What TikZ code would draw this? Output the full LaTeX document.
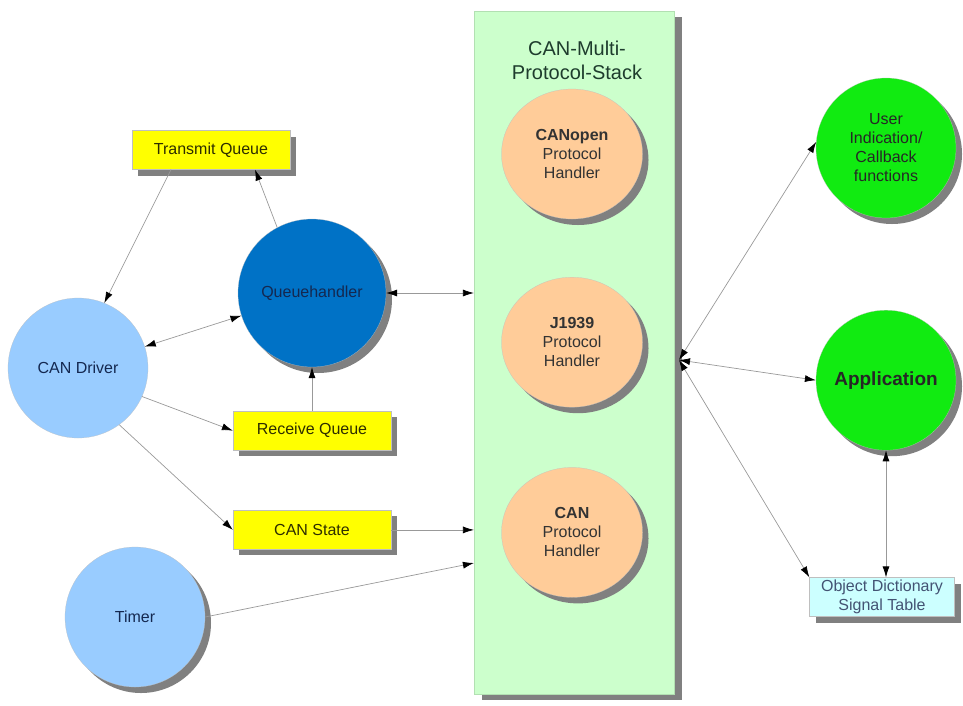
\documentclass[tikz,border=0pt]{standalone}
\usepackage{fontspec}
\setmainfont{Liberation Sans}
\usetikzlibrary{positioning}
\usetikzlibrary{arrows.meta}
\usetikzlibrary{shadows}
\usetikzlibrary{shapes.geometric}
\definecolor{stackgreen}{RGB}{204,255,204}
\definecolor{handlerorange}{RGB}{255,204,153}
\definecolor{qhblue}{RGB}{0,114,198}
\definecolor{driverblue}{RGB}{153,204,255}
\definecolor{usergreen}{RGB}{17,235,17}
\definecolor{qyellow}{RGB}{255,255,0}
\definecolor{dictcyan}{RGB}{204,255,255}
\definecolor{navytext}{RGB}{20,40,80}
\definecolor{olivetext}{RGB}{45,45,0}
\definecolor{titletext}{RGB}{30,60,45}
\tikzset{basic/.style={draw=black!25,very thin,font=\fontsize{16}{19}\selectfont,align=center,inner sep=0pt}}
\tikzset{shadowed/.style={drop shadow={shadow xshift=6pt,shadow yshift=-6pt,fill=black!50,opacity=1}}}
\tikzset{stackbox/.style={basic,rectangle,draw=green!60!black!30,fill=stackgreen,minimum width=200pt,minimum height=683pt,drop shadow={shadow xshift=8pt,shadow yshift=-5pt,fill=black!50,opacity=1}}}
\tikzset{handler/.style={basic,ellipse,fill=handlerorange,minimum width=141pt,minimum height=130pt,text=black!80,shadowed}}
\tikzset{driver/.style={basic,circle,fill=driverblue,minimum size=140pt,text=navytext}}
\tikzset{qhandler/.style={basic,circle,fill=qhblue,minimum size=148pt,text=navytext,shadowed}}
\tikzset{queue/.style={basic,rectangle,fill=qyellow,minimum width=158pt,minimum height=39pt,text=olivetext,shadowed}}
\tikzset{userfn/.style={basic,circle,fill=usergreen,minimum size=140pt,text=black!85,shadowed}}
\tikzset{dict/.style={basic,rectangle,fill=dictcyan,minimum width=145pt,minimum height=39pt,text=navytext!80,shadowed}}
\tikzset{link/.style={draw=black!40,line width=0.7pt,->}}
\tikzset{dlink/.style={link,<->}}

\begin{document}
\begin{tikzpicture}[x=1pt,y=-1pt,>={Latex[length=11pt,width=7pt,black]}]
    \useasboundingbox (0,0) rectangle (963,705);
    % protocol stack
    \node[stackbox] (stack) at (574,353) {};
    \node[font=\fontsize{20}{24}\selectfont,align=center,text=titletext] (title) at (577,60) {CAN-Multi-\\Protocol-Stack};
    \node[handler] (canopen) at (572,154) {\textbf{CANopen}\\Protocol\\Handler};
    \node[handler,below=58pt of canopen] (j1939) {\textbf{J1939}\\Protocol\\Handler};
    \node[handler,below=60pt of j1939] (canh) {\textbf{CAN}\\Protocol\\Handler};
    % driver side
    \node[driver] (drv) at (78,368) {CAN Driver};
    \node[driver,shadowed] (tmr) at (135,617) {Timer};
    \node[qhandler] (qh) at (312,293) {Queuehandler};
    \node[queue] (txq) at (211,150) {Transmit Queue};
    \node[queue,below=44pt of qh] (rxq) {Receive Queue};
    \node[queue,below=60pt of rxq] (state) {CAN State};
    % user side
    \node[userfn] (usr) at (886,148) {User\\Indication/\\Callback\\functions};
    \node[userfn,below=92pt of usr,font=\bfseries\fontsize{19}{22}\selectfont] (app) {Application};
    \node[dict] (od) at (882,597) {Object Dictionary\\Signal Table};
    \coordinate (hub) at (679,360);
    \coordinate (tmrin) at ([yshift=-210pt]stack.west);
    % connectors
    \draw[link] ([xshift=-40pt]txq.south) -- (drv.68);
    \draw[link] (qh.118) -- ([xshift=44pt]txq.south);
    \draw[dlink] (drv) -- (qh);
    \draw[dlink] (qh) -- (qh -| stack.west);
    \draw[link] (rxq) -- (qh);
    \draw[link] (drv.-24) -- (rxq.west);
    \draw[link] (drv.-54) -- (state.west);
    \draw[link] (state) -- (state -| stack.west);
    \draw[link] (tmr.east) -- (tmrin);
    \draw[dlink] (hub) -- (usr.175);
    \draw[dlink] (hub) -- (app.west);
    \draw[dlink] (hub) -- (od.north west);
    \draw[dlink] (app.south) -- (app.south |- od.north);
\end{tikzpicture}
\end{document}
